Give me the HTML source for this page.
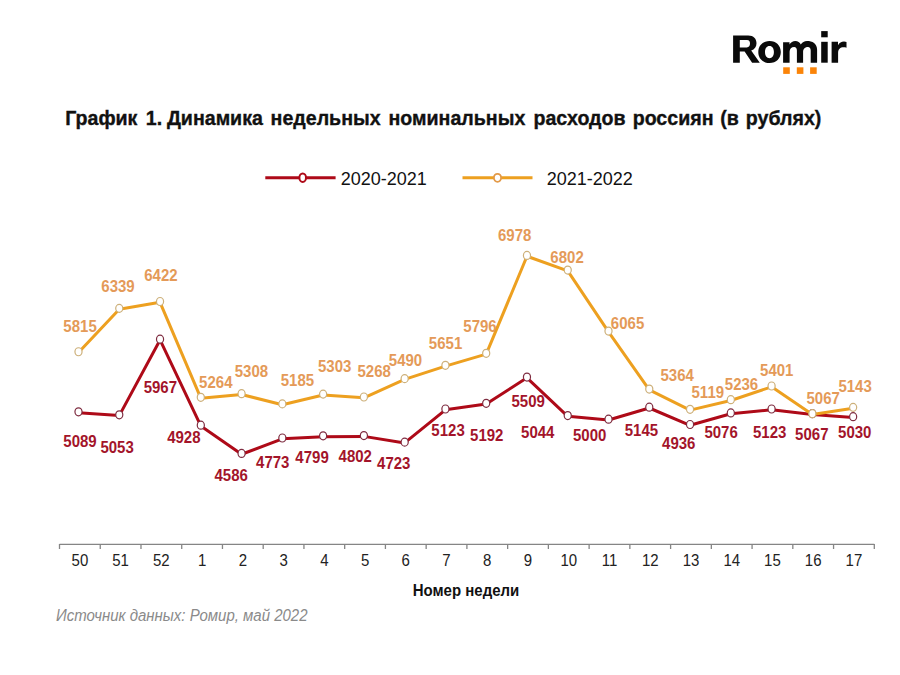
<!DOCTYPE html><html><head><meta charset="utf-8"><style>html,body{margin:0;padding:0;background:#fff;}svg{display:block;}text{font-family:"Liberation Sans",sans-serif;}</style></head><body>
<svg width="900" height="675" viewBox="0 0 900 675">
<rect width="900" height="675" fill="#fff"/>
<g fill="#0a0a0a" fill-rule="evenodd">
<path d="M733.1,35.4 H748.2 C753.6,35.4 756.5,38.6 756.5,43.2 C756.5,46.9 754.6,49.4 751.2,50.5 L759.8,62.7 H752.1 L744.6,51.6 H739.8 V62.7 H733.1 Z M739.8,40.0 H747.0 C749.3,40.0 750.0,41.6 750.0,43.6 C750.0,45.8 749.0,47.4 746.8,47.4 H739.8 Z"/>
<path d="M769.55,41.1 C776.2,41.1 780.8,45.6 780.8,52.1 C780.8,58.6 776.2,63.1 769.55,63.1 C762.9,63.1 758.3,58.6 758.3,52.1 C758.3,45.6 762.9,41.1 769.55,41.1 Z M769.5,46.0 C766.6,46.0 765.0,48.5 765.0,52.1 C765.0,55.7 766.6,58.2 769.5,58.2 C772.4,58.2 773.9,55.7 773.9,52.1 C773.9,48.5 772.4,46.0 769.5,46.0 Z"/>
<path d="M783.1,62.7 V42.2 H789.5 V44.6 C790.9,42.4 792.8,41.1 795.3,41.1 C797.9,41.1 799.8,42.4 800.8,44.6 C802.3,42.4 804.3,41.1 807.0,41.1 C812.3,41.1 817.1,43.5 817.1,49.8 V62.7 H810.7 V50.6 C810.7,48.3 809.7,47.1 808.0,47.1 C805.3,47.1 803.1,48.9 803.1,51.8 V62.7 H796.9 V50.6 C796.9,48.3 795.9,47.1 794.2,47.1 C791.5,47.1 789.6,48.9 789.6,51.8 V62.7 Z"/>
<rect x="821.2" y="41.8" width="6.5" height="20.9"/><rect x="821.2" y="31.1" width="6.5" height="6.2"/>
<path d="M831.6,62.7 V41.8 H838.0 V45.2 C839.4,42.9 841.4,41.6 844.0,41.6 C845.0,41.6 845.9,41.8 846.5,42.0 V47.7 C845.6,47.4 844.6,47.3 843.7,47.3 C840.1,47.3 838.1,49.3 838.1,53.0 V62.7 Z"/>
</g>
<rect x="783.2" y="67.3" width="6.6" height="6.6" fill="#fb8408"/>
<rect x="796.8" y="67.3" width="6.6" height="6.6" fill="#fb8408"/>
<rect x="810.1" y="67.3" width="6.6" height="6.6" fill="#fb8408"/>
<g font-size="19.6" font-weight="bold" fill="#111" stroke="#111" stroke-width="0.35">
<text x="65.2" y="124.5">График</text>
<text x="145.8" y="124.5">1.</text>
<text x="166.9" y="124.5">Динамика</text>
<text x="270.6" y="124.5">недельных</text>
<text x="388.5" y="124.5">номинальных</text>
<text x="533.5" y="124.5">расходов</text>
<text x="632.7" y="124.5">россиян</text>
<text x="720.2" y="124.5">(в</text>
<text x="745.8" y="124.5">рублях)</text>
</g>
<line x1="265.3" y1="177.7" x2="335.6" y2="177.7" stroke="#ae0a18" stroke-width="3"/>
<ellipse cx="302.7" cy="177.7" rx="3.3" ry="4.3" fill="#fff" stroke="#ae0a18" stroke-width="2"/>
<text x="340.8" y="184.9" font-size="18" fill="#111">2020-2021</text>
<line x1="462.5" y1="177.8" x2="532.5" y2="177.8" stroke="#eda020" stroke-width="3"/>
<ellipse cx="497.5" cy="177.8" rx="3.6" ry="4" fill="#fff" stroke="#e39a48" stroke-width="1.8"/>
<text x="546.8" y="184.6" font-size="18" fill="#111">2021-2022</text>
<g stroke="#858585" stroke-width="1.3" fill="none">
<line x1="59.5" y1="544.3" x2="874.3" y2="544.3"/>
<line x1="59.50" y1="544" x2="59.50" y2="549"/>
<line x1="100.24" y1="544" x2="100.24" y2="549"/>
<line x1="140.98" y1="544" x2="140.98" y2="549"/>
<line x1="181.72" y1="544" x2="181.72" y2="549"/>
<line x1="222.46" y1="544" x2="222.46" y2="549"/>
<line x1="263.20" y1="544" x2="263.20" y2="549"/>
<line x1="303.94" y1="544" x2="303.94" y2="549"/>
<line x1="344.68" y1="544" x2="344.68" y2="549"/>
<line x1="385.42" y1="544" x2="385.42" y2="549"/>
<line x1="426.16" y1="544" x2="426.16" y2="549"/>
<line x1="466.90" y1="544" x2="466.90" y2="549"/>
<line x1="507.64" y1="544" x2="507.64" y2="549"/>
<line x1="548.38" y1="544" x2="548.38" y2="549"/>
<line x1="589.12" y1="544" x2="589.12" y2="549"/>
<line x1="629.86" y1="544" x2="629.86" y2="549"/>
<line x1="670.60" y1="544" x2="670.60" y2="549"/>
<line x1="711.34" y1="544" x2="711.34" y2="549"/>
<line x1="752.08" y1="544" x2="752.08" y2="549"/>
<line x1="792.82" y1="544" x2="792.82" y2="549"/>
<line x1="833.56" y1="544" x2="833.56" y2="549"/>
<line x1="874.30" y1="544" x2="874.30" y2="549"/>
</g>
<text transform="translate(79.87,566) scale(1,1.04)" font-size="15" fill="#222" text-anchor="middle">50</text>
<text transform="translate(120.61,566) scale(1,1.04)" font-size="15" fill="#222" text-anchor="middle">51</text>
<text transform="translate(161.35,566) scale(1,1.04)" font-size="15" fill="#222" text-anchor="middle">52</text>
<text transform="translate(202.09,566) scale(1,1.04)" font-size="15" fill="#222" text-anchor="middle">1</text>
<text transform="translate(242.83,566) scale(1,1.04)" font-size="15" fill="#222" text-anchor="middle">2</text>
<text transform="translate(283.57,566) scale(1,1.04)" font-size="15" fill="#222" text-anchor="middle">3</text>
<text transform="translate(324.31,566) scale(1,1.04)" font-size="15" fill="#222" text-anchor="middle">4</text>
<text transform="translate(365.05,566) scale(1,1.04)" font-size="15" fill="#222" text-anchor="middle">5</text>
<text transform="translate(405.79,566) scale(1,1.04)" font-size="15" fill="#222" text-anchor="middle">6</text>
<text transform="translate(446.53,566) scale(1,1.04)" font-size="15" fill="#222" text-anchor="middle">7</text>
<text transform="translate(487.27,566) scale(1,1.04)" font-size="15" fill="#222" text-anchor="middle">8</text>
<text transform="translate(528.01,566) scale(1,1.04)" font-size="15" fill="#222" text-anchor="middle">9</text>
<text transform="translate(568.75,566) scale(1,1.04)" font-size="15" fill="#222" text-anchor="middle">10</text>
<text transform="translate(609.49,566) scale(1,1.04)" font-size="15" fill="#222" text-anchor="middle">11</text>
<text transform="translate(650.23,566) scale(1,1.04)" font-size="15" fill="#222" text-anchor="middle">12</text>
<text transform="translate(690.97,566) scale(1,1.04)" font-size="15" fill="#222" text-anchor="middle">13</text>
<text transform="translate(731.71,566) scale(1,1.04)" font-size="15" fill="#222" text-anchor="middle">14</text>
<text transform="translate(772.45,566) scale(1,1.04)" font-size="15" fill="#222" text-anchor="middle">15</text>
<text transform="translate(813.19,566) scale(1,1.04)" font-size="15" fill="#222" text-anchor="middle">16</text>
<text transform="translate(853.93,566) scale(1,1.04)" font-size="15" fill="#222" text-anchor="middle">17</text>
<text transform="translate(466,596.0) scale(1,1.04)" font-size="15" font-weight="bold" fill="#111" text-anchor="middle">Номер недели</text>
<text transform="translate(56,620.9) scale(1,1.06)" font-size="15" font-style="italic" fill="#8a8a8a">Источник данных: Ромир, май 2022</text>
<polyline transform="translate(0,0.8)" points="78.50,411.83 119.27,414.81 160.04,339.15 200.81,425.16 241.58,453.47 282.35,437.99 323.12,435.84 363.89,435.59 404.66,442.13 445.43,409.02 486.20,403.31 526.97,377.06 567.74,415.56 608.51,419.20 649.28,407.20 690.05,424.50 730.82,412.91 771.59,409.02 812.36,413.65 853.13,416.72" fill="none" stroke="#ae0a18" stroke-width="3" stroke-linejoin="round"/>
<ellipse cx="78.50" cy="411.83" rx="3.55" ry="4.0" fill="#fff" stroke="#7e2c40" stroke-width="1.2"/>
<ellipse cx="119.27" cy="414.81" rx="3.55" ry="4.0" fill="#fff" stroke="#7e2c40" stroke-width="1.2"/>
<ellipse cx="160.04" cy="339.15" rx="3.55" ry="4.0" fill="#fff" stroke="#7e2c40" stroke-width="1.2"/>
<ellipse cx="200.81" cy="425.16" rx="3.55" ry="4.0" fill="#fff" stroke="#7e2c40" stroke-width="1.2"/>
<ellipse cx="241.58" cy="453.47" rx="3.55" ry="4.0" fill="#fff" stroke="#7e2c40" stroke-width="1.2"/>
<ellipse cx="282.35" cy="437.99" rx="3.55" ry="4.0" fill="#fff" stroke="#7e2c40" stroke-width="1.2"/>
<ellipse cx="323.12" cy="435.84" rx="3.55" ry="4.0" fill="#fff" stroke="#7e2c40" stroke-width="1.2"/>
<ellipse cx="363.89" cy="435.59" rx="3.55" ry="4.0" fill="#fff" stroke="#7e2c40" stroke-width="1.2"/>
<ellipse cx="404.66" cy="442.13" rx="3.55" ry="4.0" fill="#fff" stroke="#7e2c40" stroke-width="1.2"/>
<ellipse cx="445.43" cy="409.02" rx="3.55" ry="4.0" fill="#fff" stroke="#7e2c40" stroke-width="1.2"/>
<ellipse cx="486.20" cy="403.31" rx="3.55" ry="4.0" fill="#fff" stroke="#7e2c40" stroke-width="1.2"/>
<ellipse cx="526.97" cy="377.06" rx="3.55" ry="4.0" fill="#fff" stroke="#7e2c40" stroke-width="1.2"/>
<ellipse cx="567.74" cy="415.56" rx="3.55" ry="4.0" fill="#fff" stroke="#7e2c40" stroke-width="1.2"/>
<ellipse cx="608.51" cy="419.20" rx="3.55" ry="4.0" fill="#fff" stroke="#7e2c40" stroke-width="1.2"/>
<ellipse cx="649.28" cy="407.20" rx="3.55" ry="4.0" fill="#fff" stroke="#7e2c40" stroke-width="1.2"/>
<ellipse cx="690.05" cy="424.50" rx="3.55" ry="4.0" fill="#fff" stroke="#7e2c40" stroke-width="1.2"/>
<ellipse cx="730.82" cy="412.91" rx="3.55" ry="4.0" fill="#fff" stroke="#7e2c40" stroke-width="1.2"/>
<ellipse cx="771.59" cy="409.02" rx="3.55" ry="4.0" fill="#fff" stroke="#7e2c40" stroke-width="1.2"/>
<ellipse cx="812.36" cy="413.65" rx="3.55" ry="4.0" fill="#fff" stroke="#7e2c40" stroke-width="1.2"/>
<ellipse cx="853.13" cy="416.72" rx="3.55" ry="4.0" fill="#fff" stroke="#7e2c40" stroke-width="1.2"/>
<polyline transform="translate(0,0.8)" points="78.50,351.73 119.27,308.36 160.04,301.49 200.81,397.35 241.58,393.70 282.35,403.89 323.12,394.12 363.89,397.01 404.66,378.64 445.43,365.31 486.20,353.31 526.97,255.46 567.74,270.03 608.51,331.04 649.28,389.07 690.05,409.35 730.82,399.66 771.59,386.01 812.36,413.65 853.13,407.36" fill="none" stroke="#eda020" stroke-width="3" stroke-linejoin="round"/>
<ellipse cx="78.50" cy="351.73" rx="3.55" ry="4.0" fill="#fff" stroke="#cdb07a" stroke-width="1.2"/>
<ellipse cx="119.27" cy="308.36" rx="3.55" ry="4.0" fill="#fff" stroke="#cdb07a" stroke-width="1.2"/>
<ellipse cx="160.04" cy="301.49" rx="3.55" ry="4.0" fill="#fff" stroke="#cdb07a" stroke-width="1.2"/>
<ellipse cx="200.81" cy="397.35" rx="3.55" ry="4.0" fill="#fff" stroke="#cdb07a" stroke-width="1.2"/>
<ellipse cx="241.58" cy="393.70" rx="3.55" ry="4.0" fill="#fff" stroke="#cdb07a" stroke-width="1.2"/>
<ellipse cx="282.35" cy="403.89" rx="3.55" ry="4.0" fill="#fff" stroke="#cdb07a" stroke-width="1.2"/>
<ellipse cx="323.12" cy="394.12" rx="3.55" ry="4.0" fill="#fff" stroke="#cdb07a" stroke-width="1.2"/>
<ellipse cx="363.89" cy="397.01" rx="3.55" ry="4.0" fill="#fff" stroke="#cdb07a" stroke-width="1.2"/>
<ellipse cx="404.66" cy="378.64" rx="3.55" ry="4.0" fill="#fff" stroke="#cdb07a" stroke-width="1.2"/>
<ellipse cx="445.43" cy="365.31" rx="3.55" ry="4.0" fill="#fff" stroke="#cdb07a" stroke-width="1.2"/>
<ellipse cx="486.20" cy="353.31" rx="3.55" ry="4.0" fill="#fff" stroke="#cdb07a" stroke-width="1.2"/>
<ellipse cx="526.97" cy="255.46" rx="3.55" ry="4.0" fill="#fff" stroke="#cdb07a" stroke-width="1.2"/>
<ellipse cx="567.74" cy="270.03" rx="3.55" ry="4.0" fill="#fff" stroke="#cdb07a" stroke-width="1.2"/>
<ellipse cx="608.51" cy="331.04" rx="3.55" ry="4.0" fill="#fff" stroke="#cdb07a" stroke-width="1.2"/>
<ellipse cx="649.28" cy="389.07" rx="3.55" ry="4.0" fill="#fff" stroke="#cdb07a" stroke-width="1.2"/>
<ellipse cx="690.05" cy="409.35" rx="3.55" ry="4.0" fill="#fff" stroke="#cdb07a" stroke-width="1.2"/>
<ellipse cx="730.82" cy="399.66" rx="3.55" ry="4.0" fill="#fff" stroke="#cdb07a" stroke-width="1.2"/>
<ellipse cx="771.59" cy="386.01" rx="3.55" ry="4.0" fill="#fff" stroke="#cdb07a" stroke-width="1.2"/>
<ellipse cx="812.36" cy="413.65" rx="3.55" ry="4.0" fill="#fff" stroke="#cdb07a" stroke-width="1.2"/>
<ellipse cx="853.13" cy="407.36" rx="3.55" ry="4.0" fill="#fff" stroke="#cdb07a" stroke-width="1.2"/>
<text transform="translate(80.05,332.40) scale(1,1.04)" font-size="15" font-weight="bold" fill="#e49a58" text-anchor="middle">5815</text>
<text transform="translate(118.00,292.30) scale(1,1.04)" font-size="15" font-weight="bold" fill="#e49a58" text-anchor="middle">6339</text>
<text transform="translate(160.90,280.80) scale(1,1.04)" font-size="15" font-weight="bold" fill="#e49a58" text-anchor="middle">6422</text>
<text transform="translate(215.80,387.50) scale(1,1.04)" font-size="15" font-weight="bold" fill="#e49a58" text-anchor="middle">5264</text>
<text transform="translate(251.40,377.10) scale(1,1.04)" font-size="15" font-weight="bold" fill="#e49a58" text-anchor="middle">5308</text>
<text transform="translate(297.40,386.30) scale(1,1.04)" font-size="15" font-weight="bold" fill="#e49a58" text-anchor="middle">5185</text>
<text transform="translate(334.65,372.00) scale(1,1.04)" font-size="15" font-weight="bold" fill="#e49a58" text-anchor="middle">5303</text>
<text transform="translate(374.15,377.10) scale(1,1.04)" font-size="15" font-weight="bold" fill="#e49a58" text-anchor="middle">5268</text>
<text transform="translate(405.50,366.30) scale(1,1.04)" font-size="15" font-weight="bold" fill="#e49a58" text-anchor="middle">5490</text>
<text transform="translate(445.55,349.20) scale(1,1.04)" font-size="15" font-weight="bold" fill="#e49a58" text-anchor="middle">5651</text>
<text transform="translate(480.00,331.50) scale(1,1.04)" font-size="15" font-weight="bold" fill="#e49a58" text-anchor="middle">5796</text>
<text transform="translate(514.65,241.10) scale(1,1.04)" font-size="15" font-weight="bold" fill="#e49a58" text-anchor="middle">6978</text>
<text transform="translate(567.05,263.10) scale(1,1.04)" font-size="15" font-weight="bold" fill="#e49a58" text-anchor="middle">6802</text>
<text transform="translate(627.55,328.50) scale(1,1.04)" font-size="15" font-weight="bold" fill="#e49a58" text-anchor="middle">6065</text>
<text transform="translate(677.20,380.90) scale(1,1.04)" font-size="15" font-weight="bold" fill="#e49a58" text-anchor="middle">5364</text>
<text transform="translate(707.80,398.10) scale(1,1.04)" font-size="15" font-weight="bold" fill="#e49a58" text-anchor="middle">5119</text>
<text transform="translate(741.50,390.20) scale(1,1.04)" font-size="15" font-weight="bold" fill="#e49a58" text-anchor="middle">5236</text>
<text transform="translate(776.75,376.30) scale(1,1.04)" font-size="15" font-weight="bold" fill="#e49a58" text-anchor="middle">5401</text>
<text transform="translate(823.15,403.60) scale(1,1.04)" font-size="15" font-weight="bold" fill="#e49a58" text-anchor="middle">5067</text>
<text transform="translate(855.10,391.80) scale(1,1.04)" font-size="15" font-weight="bold" fill="#e49a58" text-anchor="middle">5143</text>
<text transform="translate(80.00,446.50) scale(1,1.04)" font-size="15" font-weight="bold" fill="#a3142a" text-anchor="middle">5089</text>
<text transform="translate(117.10,452.50) scale(1,1.04)" font-size="15" font-weight="bold" fill="#a3142a" text-anchor="middle">5053</text>
<text transform="translate(160.35,393.20) scale(1,1.04)" font-size="15" font-weight="bold" fill="#a3142a" text-anchor="middle">5967</text>
<text transform="translate(183.85,443.30) scale(1,1.04)" font-size="15" font-weight="bold" fill="#a3142a" text-anchor="middle">4928</text>
<text transform="translate(231.20,480.90) scale(1,1.04)" font-size="15" font-weight="bold" fill="#a3142a" text-anchor="middle">4586</text>
<text transform="translate(272.75,468.20) scale(1,1.04)" font-size="15" font-weight="bold" fill="#a3142a" text-anchor="middle">4773</text>
<text transform="translate(312.05,462.80) scale(1,1.04)" font-size="15" font-weight="bold" fill="#a3142a" text-anchor="middle">4799</text>
<text transform="translate(355.25,462.40) scale(1,1.04)" font-size="15" font-weight="bold" fill="#a3142a" text-anchor="middle">4802</text>
<text transform="translate(393.75,469.30) scale(1,1.04)" font-size="15" font-weight="bold" fill="#a3142a" text-anchor="middle">4723</text>
<text transform="translate(448.05,435.50) scale(1,1.04)" font-size="15" font-weight="bold" fill="#a3142a" text-anchor="middle">5123</text>
<text transform="translate(486.75,441.40) scale(1,1.04)" font-size="15" font-weight="bold" fill="#a3142a" text-anchor="middle">5192</text>
<text transform="translate(528.15,406.70) scale(1,1.04)" font-size="15" font-weight="bold" fill="#a3142a" text-anchor="middle">5509</text>
<text transform="translate(537.75,437.50) scale(1,1.04)" font-size="15" font-weight="bold" fill="#a3142a" text-anchor="middle">5044</text>
<text transform="translate(589.70,441.40) scale(1,1.04)" font-size="15" font-weight="bold" fill="#a3142a" text-anchor="middle">5000</text>
<text transform="translate(641.40,435.50) scale(1,1.04)" font-size="15" font-weight="bold" fill="#a3142a" text-anchor="middle">5145</text>
<text transform="translate(678.75,449.10) scale(1,1.04)" font-size="15" font-weight="bold" fill="#a3142a" text-anchor="middle">4936</text>
<text transform="translate(721.10,438.30) scale(1,1.04)" font-size="15" font-weight="bold" fill="#a3142a" text-anchor="middle">5076</text>
<text transform="translate(769.65,438.30) scale(1,1.04)" font-size="15" font-weight="bold" fill="#a3142a" text-anchor="middle">5123</text>
<text transform="translate(811.80,439.50) scale(1,1.04)" font-size="15" font-weight="bold" fill="#a3142a" text-anchor="middle">5067</text>
<text transform="translate(854.75,438.30) scale(1,1.04)" font-size="15" font-weight="bold" fill="#a3142a" text-anchor="middle">5030</text>
</svg></body></html>
